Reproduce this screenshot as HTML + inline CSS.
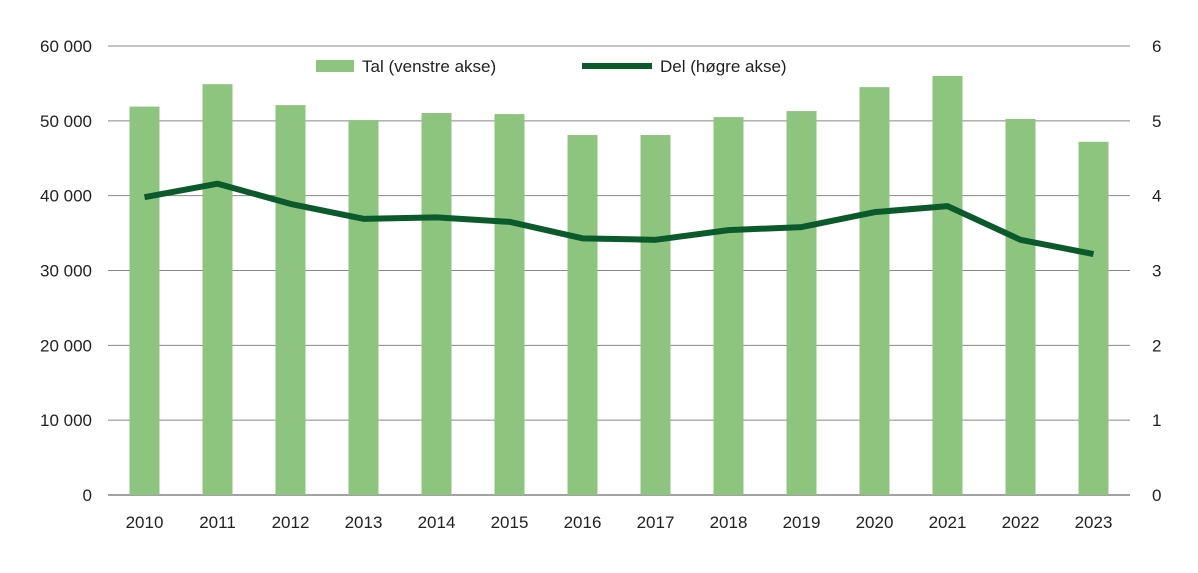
<!DOCTYPE html>
<html><head><meta charset="utf-8"><style>
body{margin:0;background:#fff;font-family:"Liberation Sans",sans-serif}
svg text{font-family:"Liberation Sans",sans-serif;font-size:17px;fill:#222}
</style></head><body>
<svg id="chart" width="1198" height="568">
<g id="grid"></g><g id="bars"></g><g id="line"></g><g id="axes"></g>
<g>
<rect x="316" y="60" width="38" height="12" fill="#8dc47e"/>
<text x="362" y="72">Tal (venstre akse)</text>
<line x1="582" y1="66" x2="652" y2="66" stroke="#0b5a2c" stroke-width="6"/>
<text x="660" y="72">Del (høgre akse)</text>
</g>
</svg>
<script>
const years=["2010","2011","2012","2013","2014","2015","2016","2017","2018","2019","2020","2021","2022","2023"];
const tal=[51900,54900,52100,50100,51050,50900,48100,48100,50500,51300,54500,56000,50250,47200];
const del=[3.98,4.16,3.89,3.69,3.71,3.65,3.43,3.41,3.54,3.58,3.78,3.86,3.41,3.22];
const leftTicks=[0,10000,20000,30000,40000,50000,60000];
const rightTicks=[0,1,2,3,4,5,6];
const NS="http://www.w3.org/2000/svg";
const x0=108,x1=1130,yTop=46,yBot=495;
const step=(x1-x0)/years.length;
const xc=i=>x0+step*(i+0.5);
const yL=v=>yBot-(v/60000)*(yBot-yTop);
const yR=v=>yBot-(v/6)*(yBot-yTop);
function mk(t,a,p){const e=document.createElementNS(NS,t);for(const k in a)e.setAttribute(k,a[k]);document.getElementById(p).appendChild(e);return e;}
const fmt=v=>v===0?"0":String(v).replace(/\B(?=(\d{3})+$)/g," ");
leftTicks.forEach((v,i)=>{
 const g=mk("line",{x1:x0,x2:x1,y1:yL(v),y2:yL(v),stroke:v===0?"#444":"#888","stroke-width":1},"grid");
 
 
 const t=mk("text",{x:92,y:yL(v)+6,"text-anchor":"end"},"axes");t.textContent=fmt(v);
 
 
});
rightTicks.forEach(v=>{
 const t=mk("text",{x:1152,y:yR(v)+6,"text-anchor":"start"},"axes");t.textContent=v;
 
 
});
years.forEach((y,i)=>{
 const b=mk("rect",{x:xc(i)-15,y:yL(tal[i]),width:30,height:yBot-yL(tal[i]),fill:"#8dc47e"},"bars");
 
 
 const t=mk("text",{x:xc(i),y:528,"text-anchor":"middle"},"axes");t.textContent=y;
 
 
});
const pts=del.map((v,i)=>xc(i)+","+yR(v)).join(" ");
const pl=mk("polyline",{points:pts,fill:"none",stroke:"#0b5a2c","stroke-width":6,"stroke-linejoin":"round"},"line");


</script>
</body></html>
